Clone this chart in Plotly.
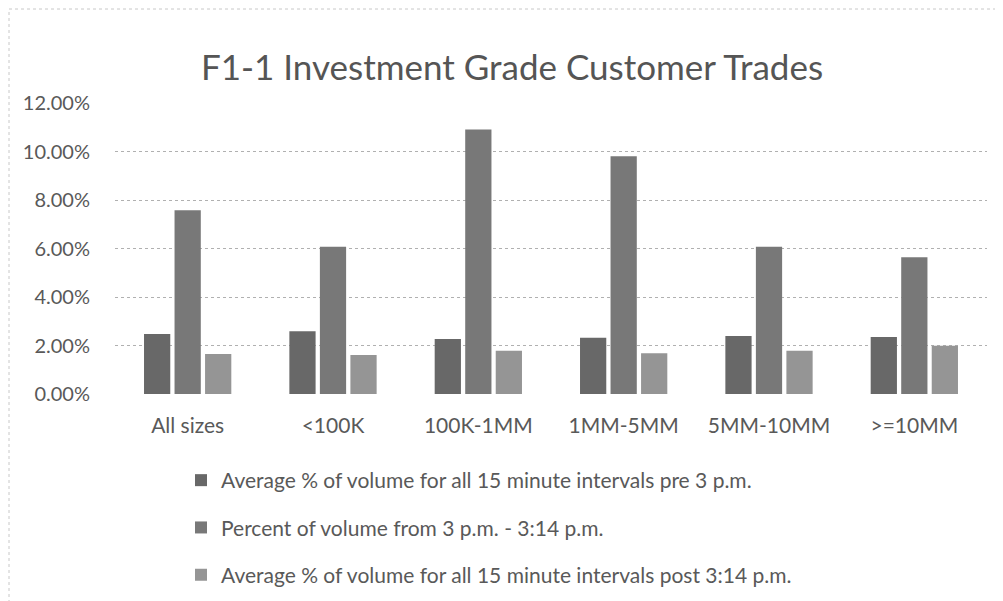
import plotly.graph_objects as go

categories = ["All sizes", "<100K", "100K-1MM", "1MM-5MM", "5MM-10MM", ">=10MM"]
pre_3pm = [0.0247, 0.0259, 0.0227, 0.0232, 0.0239, 0.0235]
from_3pm = [0.0758, 0.0607, 0.1091, 0.0980, 0.0607, 0.0564]
post_314 = [0.0165, 0.0161, 0.0178, 0.0168, 0.0178, 0.0199]
series_names = [
    "Average % of volume for all 15 minute intervals pre 3 p.m.",
    "Percent of volume from 3 p.m. - 3:14 p.m.",
    "Average % of volume for all 15 minute intervals post 3:14 p.m.",
]
colors = ["#686868", "#787878", "#959595"]
FONT = "Lato"

fig = go.Figure()
for i, (name, vals) in enumerate(zip(series_names, [pre_3pm, from_3pm, post_314])):
    fig.add_trace(go.Bar(
        x=categories, y=vals, name=name, legendgroup=f"g{i}",
        marker=dict(color=colors[i], line=dict(width=0)),
    ))

W, H = 1003, 601
L, R, T, B = 107, 24, 95, 215

fig.update_layout(
    width=W, height=H,
    margin=dict(l=L, r=R, t=T, b=B, autoexpand=False),
    paper_bgcolor="white", plot_bgcolor="white",
    font=dict(family=FONT, color="#595959"),
    title=dict(text="F1-1 Investment Grade Customer Trades", x=504 / W, xref="container",
               xanchor="center", y=1 - 60 / H, yanchor="middle",
               font=dict(family=FONT, size=35, color="#555555")),
    barmode="group", bargap=0.37, bargroupgap=0.14,
    showlegend=True,
    legend=dict(orientation="v", xref="container", x=173 / W, xanchor="left",
                yref="container", y=1 - 452 / H, yanchor="top",
                tracegroupgap=17, font=dict(size=21, color="#595959"),
                bgcolor="rgba(0,0,0,0)"),
    xaxis=dict(showgrid=False, showline=False, ticks="",
               tickfont=dict(size=21, color="#595959"), ticklabelstandoff=17),
    yaxis=dict(range=[0, 0.12], dtick=0.02, tickformat=".2%",
               showgrid=True, gridcolor="#b0b0b0", griddash="dot", gridwidth=1,
               zeroline=False, showline=False, ticks="",
               tickfont=dict(size=20, color="#595959"), ticklabelstandoff=24),
    shapes=[
        dict(type="line", xref="paper", yref="paper",
             x0=-(L - 1) / (W - L - R), x1=1 + R / (W - L - R),
             y0=1 + (T - 1) / (H - T - B), y1=1 + (T - 1) / (H - T - B),
             line=dict(color="#c8c8c8", width=1, dash="dot")),
        dict(type="line", xref="paper", yref="paper",
             x0=-(L - 1) / (W - L - R), x1=-(L - 1) / (W - L - R),
             y0=-B / (H - T - B), y1=1 + (T - 1) / (H - T - B),
             line=dict(color="#c8c8c8", width=1, dash="dot")),
    ],
)

fig.write_html("out.html")
